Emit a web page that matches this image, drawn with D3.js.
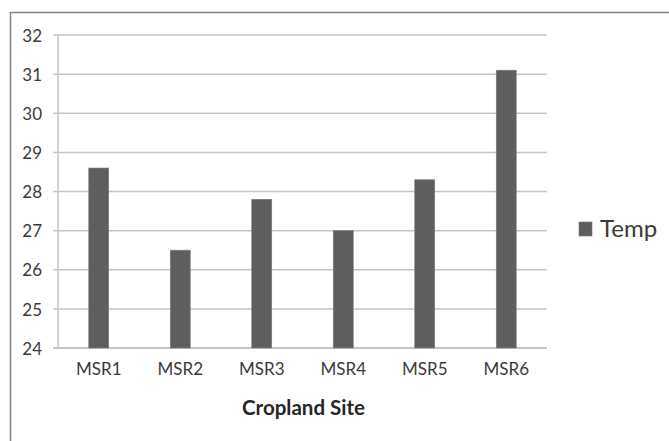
<!DOCTYPE html>
<html>
<head>
<meta charset="utf-8">
<script src="https://cdn.jsdelivr.net/npm/d3@7"></script>
<style>
  html, body { margin: 0; padding: 0; background: #fff; }
  svg { display: block; }
  text { font-family: Lato, "Open Sans", sans-serif; }
</style>
</head>
<body>
<svg id="chart" width="669" height="441"></svg>
<script>
const categories = ["MSR1", "MSR2", "MSR3", "MSR4", "MSR5", "MSR6"];
const tempValues = [28.6, 26.5, 27.8, 27.0, 28.3, 31.1];
const yTicks = [24, 25, 26, 27, 28, 29, 30, 31, 32];
const seriesName = "Temp";
const xTitle = "Cropland Site";

const svg = d3.select("#chart");
const W = 669, H = 441;
const plot = { left: 58, top: 35, right: 547, bottom: 348 };

// outer frame
svg.append("rect")
  .attr("x", 10.5).attr("y", 12.5)
  .attr("width", W + 20).attr("height", H + 20)
  .attr("fill", "#fff").attr("stroke", "#848484").attr("stroke-width", 1.5);

const x = d3.scaleBand()
  .domain(categories)
  .range([plot.left, plot.right])
  .paddingInner(0.755)
  .paddingOuter(0.3775);

const y = d3.scaleLinear()
  .domain([24, 32])
  .range([plot.bottom, plot.top]);

// gridlines
svg.append("g").selectAll("line")
  .data(yTicks)
  .join("line")
  .attr("x1", plot.left - 5).attr("x2", plot.right)
  .attr("y1", d => y(d)).attr("y2", d => y(d))
  .attr("stroke", d => d === 24 ? "#b0b0b0" : "#c4c4c4")
  .attr("stroke-width", 1.5);

// vertical axis line
svg.append("line")
  .attr("x1", plot.left).attr("x2", plot.left)
  .attr("y1", plot.top).attr("y2", plot.bottom)
  .attr("stroke", "#c4c4c4").attr("stroke-width", 1.5);

// y axis labels via d3 axis
const yAxis = svg.append("g")
  .attr("transform", `translate(${plot.left - 16},0)`)
  .call(d3.axisLeft(y).tickValues(yTicks).tickSize(0).tickPadding(0).tickFormat(d3.format("d")));
yAxis.select(".domain").remove();
yAxis.selectAll("text")
  .attr("font-family", "Lato, sans-serif")
  .attr("font-size", 17)
  .attr("fill", "#3a3a3a")
  .attr("dy", "0.36em");

// bars
svg.append("g").selectAll("rect")
  .data(categories.map((c, i) => ({ c, v: tempValues[i] })))
  .join("rect")
  .attr("x", d => x(d.c))
  .attr("width", x.bandwidth())
  .attr("y", d => y(d.v))
  .attr("height", d => y(24) - y(d.v))
  .attr("fill", "#5e5e5e")
  .attr("stroke", "#7a7a7a")
  .attr("stroke-width", 0.6);

// x axis labels
const xAxis = svg.append("g")
  .attr("transform", `translate(0,${plot.bottom + 15})`)
  .call(d3.axisBottom(x).tickSize(0).tickPadding(0));
xAxis.select(".domain").remove();
xAxis.selectAll("text")
  .attr("font-family", "Lato, sans-serif")
  .attr("font-size", 17)
  .attr("fill", "#3a3a3a")
  .attr("dy", "0.71em");

// x title
svg.append("text")
  .attr("x", (plot.left + plot.right) / 2 + 1)
  .attr("y", 415)
  .attr("text-anchor", "middle")
  .attr("font-size", 20.5)
  .attr("font-weight", "bold")
  .attr("fill", "#262626")
  .text(xTitle);

// legend
const lg = svg.append("g");
lg.append("rect")
  .attr("x", 579).attr("y", 222)
  .attr("width", 13).attr("height", 14)
  .attr("fill", "#5e5e5e").attr("stroke", "#7a7a7a").attr("stroke-width", 0.6);
lg.append("text")
  .attr("x", 600).attr("y", 237)
  .attr("font-size", 24)
  .attr("fill", "#3a3a3a")
  .text(seriesName);
</script>
</body>
</html>
